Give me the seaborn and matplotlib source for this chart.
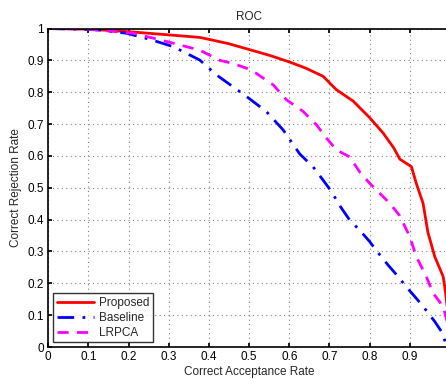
import numpy as np
import pandas as pd
import seaborn as sns
import matplotlib
matplotlib.use("Agg")
import matplotlib.pyplot as plt

sns.set_theme(style="white")
plt.rcParams['font.family'] = ['Liberation Sans', 'DejaVu Sans']

prop_x = [0, 0.1, 0.2, 0.3, 0.377, 0.4, 0.45, 0.5, 0.55, 0.6, 0.64, 0.684, 0.717, 0.759,
          0.8, 0.834, 0.86, 0.875, 0.904, 0.916, 0.933, 0.945, 0.962, 0.983, 0.989, 0.995, 1.0]
prop_y = [1, 0.998, 0.99, 0.98, 0.972, 0.966, 0.952, 0.934, 0.916, 0.895, 0.876, 0.85, 0.808, 0.772,
          0.72, 0.671, 0.625, 0.59, 0.566, 0.514, 0.451, 0.36, 0.284, 0.221, 0.17, 0.1, 0.0]

base_x = [0, 0.1, 0.129, 0.195, 0.253, 0.311, 0.377, 0.419, 0.494, 0.543, 0.585, 0.626, 0.659,
          0.684, 0.705, 0.726, 0.75, 0.775, 0.8, 0.821, 0.846, 0.871, 0.891, 0.916, 0.937, 0.962,
          0.979, 0.99, 0.993]
base_y = [1, 0.997, 0.995, 0.985, 0.966, 0.943, 0.901, 0.854, 0.786, 0.739, 0.681, 0.606, 0.566,
          0.524, 0.488, 0.443, 0.399, 0.367, 0.331, 0.296, 0.257, 0.221, 0.189, 0.153, 0.121, 0.08,
          0.048, 0.01, 0.0]

lrpca_x = [0, 0.1, 0.212, 0.295, 0.377, 0.427, 0.46, 0.494, 0.518, 0.56, 0.593, 0.634, 0.668,
           0.693, 0.717, 0.75, 0.775, 0.8, 0.825, 0.85, 0.875, 0.9, 0.916, 0.941, 0.958, 0.983,
           0.995, 1.0]
lrpca_y = [1, 0.998, 0.985, 0.959, 0.932, 0.9, 0.89, 0.875, 0.859, 0.823, 0.776, 0.74, 0.697,
           0.655, 0.619, 0.597, 0.55, 0.514, 0.483, 0.451, 0.412, 0.346, 0.284, 0.221, 0.169, 0.127,
           0.07, 0.0]

xticks = [0, 0.1, 0.2, 0.3, 0.4, 0.5, 0.6, 0.7, 0.8, 0.9, 1.0]
yticks = [0, 0.1, 0.2, 0.3, 0.4, 0.5, 0.6, 0.7, 0.8, 0.9, 1.0]
xtick_labels = ['0', '0.1', '0.2', '0.3', '0.4', '0.5', '0.6', '0.7', '0.8', '0.9', '']
ytick_labels = ['0', '0.1', '0.2', '0.3', '0.4', '0.5', '0.6', '0.7', '0.8', '0.9', '1']

fig = plt.figure(figsize=(4.46, 3.79), dpi=100)
ax = fig.add_axes([48.3/446, (379-347)/379, (450-48.3)/446, (347-28.5)/379])

sns.lineplot(x=prop_x, y=prop_y, ax=ax, color='#ff0000', lw=2, label='Proposed', sort=False)
sns.lineplot(x=base_x, y=base_y, ax=ax, color='#0000ff', lw=2, label='Baseline', sort=False,
             linestyle=(0, (6, 3, 1, 3)))
sns.lineplot(x=lrpca_x, y=lrpca_y, ax=ax, color='#ff00ff', lw=2, label='LRPCA', sort=False,
             linestyle=(0, (4, 3)))

ax.set_xlim(0, 1)
ax.set_ylim(0, 1)
ax.set_xticks(xticks)
ax.set_xticklabels(xtick_labels)
ax.set_yticks(yticks)
ax.set_yticklabels(ytick_labels)
ax.tick_params(direction='in', length=3, labelsize=8.5, colors='black', pad=3,
               top=True, right=True, bottom=True, left=True)
ax.grid(True, linestyle=(0, (1, 3)), color='#808080', lw=0.8)
for s in ax.spines.values():
    s.set_color('black')
    s.set_linewidth(1.2)

ax.set_title('ROC', fontsize=8.5, pad=6)
ax.set_xlabel('Correct Acceptance Rate', fontsize=8.5, labelpad=2)
ax.set_ylabel('Correct Rejection Rate', fontsize=8.5, labelpad=4)

leg = ax.legend(loc='lower left', fontsize=8.5, frameon=True, fancybox=False,
                edgecolor='black', handlelength=3.2, borderaxespad=0.4,
                labelspacing=0.25, borderpad=0.3, handletextpad=0.4)
leg.get_frame().set_linewidth(1.0)

fig.savefig('out.png', dpi=100)
